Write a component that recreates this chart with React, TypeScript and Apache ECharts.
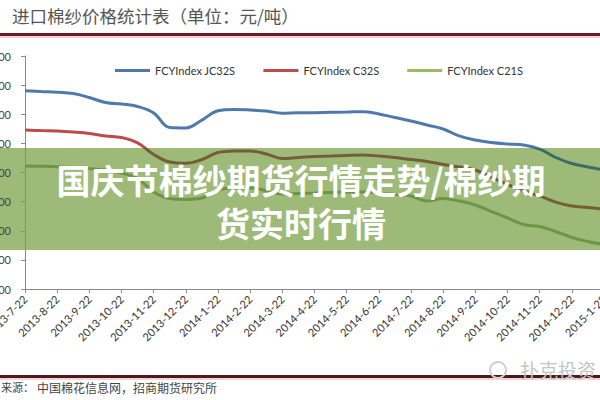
import React, { useEffect, useRef } from "react";
import * as echarts from "echarts";

const categories: string[] = [
  "2013-7-22", "2013-8-7", "2013-8-22", "2013-9-7", "2013-9-22", "2013-10-7", "2013-10-22",
  "2013-11-7", "2013-11-22", "2013-12-7", "2013-12-22", "2014-1-7", "2014-1-22", "2014-2-7",
  "2014-2-22", "2014-3-7", "2014-3-22", "2014-4-7", "2014-4-22", "2014-5-7", "2014-5-22",
  "2014-6-7", "2014-6-22", "2014-7-7", "2014-7-22", "2014-8-7", "2014-8-22", "2014-9-7",
  "2014-9-22", "2014-10-7", "2014-10-22", "2014-11-7", "2014-11-22", "2014-12-7", "2014-12-22",
  "2015-1-7", "2015-1-22",
];

const jc32s: number[] = [
  31620, 31560, 31510, 31425, 31150, 30810, 30700, 30530, 30090, 29090, 29060, 29600, 30240,
  30330, 30290, 30220, 30070, 30110, 30110, 30130, 30150, 30180, 30020, 29780, 29540, 29260,
  28990, 28510, 28230, 28060, 27960, 27890, 27610, 27030, 26620, 26380, 26170,
];

const c32s: number[] = [
  28920, 28880, 28850, 28780, 28680, 28510, 28400, 28030, 27240, 26720, 26630, 26890, 27370,
  27480, 27480, 27270, 26960, 27030, 27100, 27130, 27170, 27200, 27130, 27030, 26890, 26760,
  26550, 26380, 26170, 25660, 25180, 24730, 24390, 23970, 23700, 23600, 23490,
];

const c21s: number[] = [
  26450, 26430, 26400, 26340, 26270, 26170, 25970, 25590, 24660, 24210, 24150, 24250, 24800,
  24940, 24940, 24760, 24520, 24560, 24590, 24630, 24660, 24660, 24590, 24490, 24390, 24040,
  24210, 24040, 23770, 23320, 22880, 22430, 22290, 21950, 21540, 21260, 21050,
];

const seriesNames: string[] = ["FCYIndex JC32S", "FCYIndex C32S", "FCYIndex C21S"];
const colors: string[] = ["#4F79AC", "#BE4B4B", "#9BBB62"];
const shadedColors: string[] = ["#3d6c68", "#735e38", "#6c9646"];

const titleText = "进口棉纱价格统计表（单位：元/吨）";
const sourceLead = "来源：";
const sourceText = "中国棉花信息网，招商期货研究所";
const bannerLines: string[] = ["国庆节棉纱期货行情走势/棉纱期", "货实时行情"];
const watermark = "扑克投资";

export default function App() {
  const ref = useRef<HTMLDivElement>(null);

  useEffect(() => {
    if (!ref.current) return;
    const chart = echarts.init(ref.current, null, { renderer: "svg" });
    const font = "Lato, 'Noto Sans', sans-serif";
    const cjk = "'Noto Sans CJK SC', sans-serif";
    const data = [jc32s, c32s, c21s];

    // banner band in pixels: y 148..250; axis: top 56 -> 34000, 233px -> 16000
    const yMin = 18000;
    const yMax = 34000;
    const top = 56;
    const h = 233;
    const bandTop = yMax - ((148 - top) / h) * (yMax - yMin);
    const bandBottom = yMax - ((250 - top) / h) * (yMax - yMin);

    chart.setOption({
      animation: false,
      backgroundColor: "#ffffff",
      grid: { left: 25, top, width: 579, height: h, containLabel: false, outerBoundsMode: "none" },
      legend: {
        top: 60,
        left: 110,
        itemWidth: 35,
        itemHeight: 3,
        itemGap: 28,
        icon: "rect",
        textStyle: { fontFamily: font, fontSize: 11, color: "#333" },
        data: seriesNames.map((n, i) => ({ name: n, itemStyle: { color: colors[i] } })),
      },
      visualMap: seriesNames.map((_, i) => ({
        type: "piecewise",
        show: false,
        seriesIndex: i,
        dimension: 1,
        pieces: [
          { gt: bandTop, color: colors[i] },
          { gte: bandBottom, lte: bandTop, color: shadedColors[i] },
          { lt: bandBottom, color: colors[i] },
        ],
      })),
      xAxis: {
        type: "category",
        data: categories,
        boundaryGap: false,
        axisLine: { lineStyle: { color: "#8a8a8a", width: 1 } },
        axisTick: { show: true, interval: 1, length: 4, lineStyle: { color: "#8a8a8a" } },
        axisLabel: {
          interval: 1,
          rotate: 45,
          margin: 8,
          fontFamily: font,
          fontSize: 11,
          color: "#333",
        },
        splitLine: { show: false },
      },
      yAxis: {
        type: "value",
        min: yMin,
        max: yMax,
        interval: 2000,
        axisLine: { show: true, lineStyle: { color: "#8a8a8a", width: 1 } },
        axisTick: { show: true, length: 4, lineStyle: { color: "#8a8a8a" } },
        axisLabel: {
          margin: 14,
          fontFamily: font,
          fontSize: 11,
          color: "#444",
          formatter: (v: number) => String(v),
        },
        splitLine: { show: false },
      },
      series: seriesNames.map((name, i) => ({
        name,
        type: "line",
        data: data[i],
        showSymbol: false,
        smooth: 0.4,
        lineStyle: { width: 3 },
        itemStyle: { color: colors[i] },
        z: 5,
      })),
      graphic: [
        {
          type: "text",
          left: 12,
          top: 7,
          style: { text: titleText, font: `17.5px ${cjk}`, fill: "#555" },
        },
        { type: "rect", shape: { x: 0, y: 33, width: 600, height: 3 }, style: { fill: "#6a1c1e" } },
        { type: "rect", shape: { x: 0, y: 36, width: 600, height: 2 }, style: { fill: "#f3cfcf" } },
        { type: "rect", shape: { x: 0, y: 375, width: 600, height: 3 }, style: { fill: "#4a1a1c" } },
        { type: "rect", shape: { x: 0, y: 378, width: 600, height: 2 }, style: { fill: "#f3d3d3" } },
        {
          type: "text",
          x: 1,
          y: 381,
          style: { text: sourceLead, font: `11px ${cjk}`, fill: "#444" },
        },
        {
          type: "text",
          x: 37,
          y: 381,
          style: { text: sourceText, font: `12px ${cjk}`, fill: "#444" },
        },
        {
          type: "ring",
          shape: { cx: 498, cy: 370, r: 9, r0: 7 },
          style: { fill: "#d0d0d0" },
        },
        {
          type: "text",
          x: 520,
          y: 360,
          style: { text: watermark, font: `19px ${cjk}`, fill: "#c4c4c4" },
        },
        {
          type: "rect",
          shape: { x: 0, y: 148, width: 600, height: 102 },
          style: { fill: "rgb(157,186,121)" },
          z: 0,
          zlevel: 0,
        },
        {
          type: "text",
          x: 301,
          y: 200.5,
          style: {
            text: bannerLines.join("\n"),
            font: `bold 34px ${cjk}`,
            lineHeight: 43,
            fill: "#ffffff",
            align: "center",
            verticalAlign: "middle",
          },
          z: 100,
        },
      ],
    });

    return () => chart.dispose();
  }, []);

  return (
    <div
      ref={ref}
      style={{ position: "fixed", left: 0, top: 0, width: 600, height: 400 }}
    />
  );
}
